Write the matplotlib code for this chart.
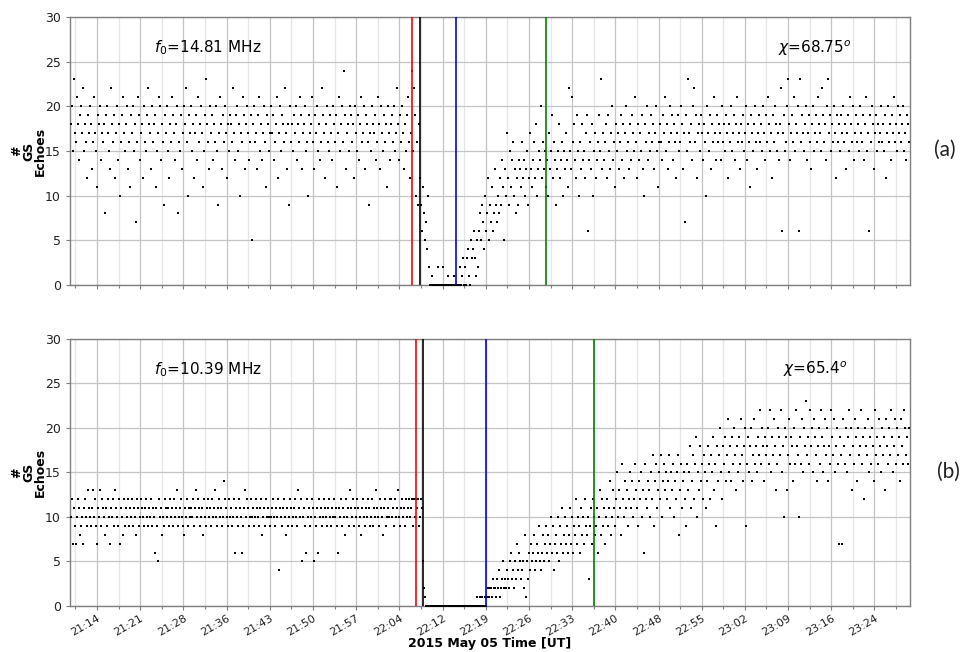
import matplotlib
matplotlib.use("Agg")
import matplotlib.pyplot as plt
import numpy as np
from matplotlib.ticker import FixedLocator

# ---------------------------------------------------------------------------
# Ground-scatter echo counts, 10 s cadence, 2015-05-05
# ---------------------------------------------------------------------------
CADENCE_S = 10

# Panel (a): f0 = 14.81 MHz
a_pre_start = "21:09:40"
a_pre = [
    18, 20, 15, 23, 17, 16, 21, 18, 14, 19, 20, 17, 22, 15, 18, 16, 12, 19, 17, 20,
    18, 13, 16, 21, 17, 15, 11, 19, 18, 20, 14, 17, 16, 18, 8, 19, 20, 17, 15, 13,
    22, 18, 16, 19, 12, 17, 20, 14, 18, 10, 16, 19, 21, 17, 15, 18, 20, 13, 16, 11,
    19, 17, 20, 15, 18, 7, 16, 21, 19, 14, 17, 18, 12, 20, 16, 15, 19, 22, 18, 17,
    13, 20, 16, 18, 19, 11, 15, 17, 21, 20, 14, 18, 16, 9, 19, 17, 20, 15, 12, 18,
    16, 21, 19, 17, 14, 18, 20, 8, 16, 15, 19, 13, 17, 20, 18, 22, 16, 10, 19, 17,
    20, 15, 18, 12, 17, 19, 14, 21, 16, 18, 20, 17, 11, 15, 19, 23, 18, 16, 13, 20,
    17, 19, 14, 18, 16, 20, 15, 9, 17, 21, 18, 13, 19, 16, 20, 17, 12, 18, 15, 19,
    18, 16, 22, 17, 14, 19, 20, 15, 18, 10, 17, 16, 21, 19, 13, 18, 20, 17, 14, 16,
    19, 5, 18, 20, 16, 17, 13, 19, 21, 15, 18, 14, 17, 20, 16, 11, 19, 18, 15, 17,
    20, 17, 19, 14, 16, 18, 21, 12, 17, 20, 15, 19, 18, 16, 22, 17, 13, 18, 9, 20,
    16, 18, 15, 19, 17, 20, 14, 18, 16, 21, 19, 13, 17, 18, 20, 15, 16, 10, 19, 17,
    18, 21, 16, 13, 19, 17, 20, 15, 18, 14, 16, 22, 19, 17, 12, 18, 20, 16, 15, 19,
    17, 14, 20, 18, 16, 19, 11, 17, 21, 15, 18, 20, 16, 24, 19, 13, 17, 18, 15, 20,
    19, 16, 18, 12, 20, 17, 15, 19, 14, 18, 21, 16, 17, 20, 13, 19, 18, 16, 9, 17,
    15, 20, 18, 17, 19, 14, 16, 21, 18, 13, 20, 17, 15, 19, 16, 18, 11, 20, 17, 14,
    18, 19, 16, 20, 15, 17, 22, 18, 14, 19, 16, 20, 17, 13, 18, 15, 19, 21, 16, 12,
    17, 24, 15, 22, 19, 10, 16, 9, 18,
]
a_drop_start = "22:07:50"
a_drop = [
    12, 9, 6, 11, 8, 5, 7, 4, 10, 2,
    0, 0, 1, 0, 0, 0, 0, 0, 2, 0,
    0, 0, 0, 2, 0, 0, 0, 0, 1, 0,
    0, 0, 0, 0, 1, 0, 0, 0, 0, 0,
    2, 0, 1, 3, 0, 2, 0, 3, 4, 1,
    0, 5, 3, 4, 6, 3, 1, 5, 2, 6,
]
a_post_start = "22:17:50"
a_post = [
    8, 5, 9, 7, 4, 10, 6, 8, 12, 5, 9, 7, 11, 6, 8, 13, 9, 7, 10, 8,
    12, 9, 14, 11, 5, 13, 10, 17, 12, 9, 15, 11, 14, 16, 10, 13, 8, 12, 9, 14,
    13, 11, 16, 12, 14, 10, 13, 15, 9, 12, 17, 13, 11, 14, 16, 12, 18, 10, 13, 15,
    14, 20, 12, 16, 13, 15, 11, 14, 10, 17, 13, 15, 19, 12, 16, 14, 9, 13, 15, 18,
    12, 14, 16, 10, 15, 13, 17, 14, 11, 22, 15, 13, 21, 16, 18, 14, 12, 19, 15, 10,
    16, 13, 18, 14, 15, 12, 17, 19, 6, 14, 16, 13, 18, 10, 15, 17, 12, 14, 16, 19,
    15, 23, 13, 17, 14, 16, 18, 12, 19, 15, 13, 17, 20, 14, 16, 11, 18, 15, 17, 13,
    16, 19, 14, 18, 12, 17, 20, 15, 16, 13, 18, 14, 19, 17, 15, 21, 16, 12, 18, 14,
    17, 15, 19, 13, 10, 18, 16, 20, 14, 17, 15, 19, 16, 18, 13, 17, 20, 15, 11, 16,
    18, 16, 14, 19, 17, 21, 15, 18, 13, 16, 20, 17, 19, 14, 18, 16, 12, 17, 19, 15,
    16, 20, 18, 13, 17, 7, 19, 15, 23, 17, 16, 18, 14, 20, 22, 16, 19, 12, 17, 18,
    15, 19, 17, 14, 18, 16, 10, 20, 17, 15, 19, 13, 18, 16, 21, 17, 14, 19, 16, 18,
    17, 14, 20, 16, 18, 15, 19, 17, 12, 18, 16, 20, 15, 17, 19, 14, 18, 21, 16, 17,
    13, 18, 16, 19, 15, 17, 20, 14, 18, 16, 11, 19, 17, 15, 18, 20, 16, 13, 17, 19,
    16, 18, 15, 20, 17, 14, 19, 16, 21, 18, 15, 17, 12, 19, 16, 20, 18, 15, 17, 14,
    18, 22, 6, 17, 19, 15, 16, 20, 23, 18, 14, 17, 19, 16, 21, 15, 18, 17, 20, 6,
    23, 16, 19, 17, 15, 18, 20, 14, 17, 19, 16, 13, 18, 20, 15, 17, 19, 16, 21, 18,
    17, 15, 22, 19, 16, 18, 14, 20, 23, 17, 19, 15, 18, 16, 20, 17, 12, 19, 16, 18,
    15, 19, 17, 20, 16, 18, 13, 17, 19, 15, 21, 18, 16, 20, 14, 17, 19, 16, 18, 15,
    20, 17, 16, 19, 14, 18, 21, 15, 17, 6, 19, 16, 20, 18, 13, 17, 19, 15, 18, 16,
    17, 20, 16, 18, 15, 19, 12, 17, 20, 16, 18, 14, 19, 17, 21, 16, 18, 15, 20, 17,
    19, 16, 18, 20, 15, 17, 14, 19, 18, 16,
]

# Panel (b): f0 = 10.39 MHz
b_pre_start = "21:09:40"
b_pre = [
    10, 12, 7, 11, 9, 7, 10, 12, 11, 8, 9, 10, 7, 11, 12, 10, 9, 13, 11, 10,
    9, 11, 13, 10, 12, 9, 7, 11, 10, 13, 9, 12, 11, 10, 8, 11, 9, 12, 10, 7,
    11, 10, 12, 9, 13, 11, 10, 9, 12, 7, 11, 10, 8, 12, 9, 11, 10, 12, 9, 11,
    10, 12, 9, 11, 10, 8, 12, 11, 9, 10, 12, 11, 10, 9, 11, 12, 10, 9, 11, 10,
    12, 9, 11, 10, 6, 11, 9, 5, 12, 10, 11, 8, 10, 9, 12, 11, 10, 11, 9, 12,
    10, 11, 9, 12, 10, 11, 13, 9, 10, 11, 12, 10, 9, 8, 11, 10, 12, 9, 11, 10,
    11, 10, 12, 9, 11, 13, 10, 12, 11, 9, 10, 11, 8, 12, 10, 9, 11, 12, 10, 11,
    9, 12, 10, 11, 13, 10, 9, 11, 12, 10, 11, 9, 10, 14, 12, 11, 10, 9, 12, 10,
    11, 9, 10, 12, 6, 11, 10, 9, 12, 11, 10, 6, 9, 11, 13, 10, 12, 11, 9, 10,
    12, 10, 11, 9, 10, 12, 11, 10, 9, 11, 12, 8, 10, 11, 9, 12, 10, 11, 10, 9,
    10, 11, 12, 10, 9, 11, 10, 12, 4, 11, 10, 9, 11, 12, 10, 8, 11, 9, 10, 12,
    11, 9, 10, 11, 12, 10, 9, 13, 11, 10, 12, 5, 10, 11, 9, 6, 12, 10, 11, 9,
    10, 12, 11, 5, 10, 9, 11, 6, 12, 10, 11, 9, 10, 12, 11, 10, 9, 11, 12, 10,
    9, 11, 10, 12, 10, 11, 9, 6, 11, 10, 12, 9, 11, 10, 8, 12, 10, 11, 9, 13,
    11, 10, 12, 9, 11, 10, 12, 11, 9, 10, 8, 11, 12, 10, 9, 11, 10, 12, 11, 9,
    10, 12, 9, 11, 10, 13, 11, 10, 9, 12, 11, 10, 8, 11, 12, 9, 10, 11, 10, 12,
    12, 10, 11, 9, 12, 10, 11, 13, 10, 9, 11, 12, 10, 11, 9, 12, 10, 11, 12, 10,
    11, 12, 9, 12, 10, 12, 11, 12, 9, 10, 12, 11,
]
b_drop_start = "22:08:20"
b_drop = [
    5, 2, 1, 0, 0, 0, 0, 0, 0, 0,
    0, 0, 0, 0, 0, 0, 0, 0, 0, 0,
    0, 0, 0, 0, 0, 0, 0, 0, 0, 0,
    0, 0, 0, 0, 0, 0, 0, 0, 0, 0,
    0, 0, 0, 0, 0, 0, 0, 0, 0, 0,
    0, 0, 0, 0,
    1, 0, 0, 1, 0, 1, 0, 0, 1, 0,
]
b_post_start = "22:19:00"
b_post = [
    1, 2, 1, 2, 2, 1, 3, 2, 2, 1, 3, 2, 4, 1, 2, 3, 5, 2, 3, 2,
    4, 3, 2, 5, 6, 3, 4, 2, 5, 3, 7, 4, 6, 5, 3, 4, 5, 2, 8, 1,
    5, 3, 6, 4, 7, 5, 6, 8, 4, 5, 7, 6, 9, 5, 4, 6, 8, 5, 7, 9,
    6, 8, 5, 7, 10, 6, 9, 4, 7, 8, 6, 10, 5, 9, 7, 11, 6, 8, 10, 7,
    9, 6, 8, 11, 7, 10, 6, 9, 8, 12, 7, 10, 9, 6, 11, 8, 10, 7, 12, 9,
    8, 10, 3, 9, 11, 7, 12, 10, 8, 9, 11, 6, 10, 13, 8, 12, 9, 11, 7, 10,
    12, 9, 11, 14, 8, 10, 13, 11, 9, 12, 15, 10, 13, 11, 8, 16, 12, 10, 14, 11,
    13, 9, 12, 15, 11, 14, 10, 12, 16, 13, 11, 9, 14, 12, 15, 10, 13, 6, 16, 12,
    11, 14, 13, 10, 15, 12, 17, 9, 14, 16, 11, 13, 15, 12, 17, 10, 14, 16, 13, 15,
    12, 14, 17, 11, 15, 13, 16, 10, 14, 12, 15, 17, 8, 13, 16, 11, 14, 15, 12, 9,
    16, 13, 15, 18, 11, 14, 17, 12, 16, 19, 10, 15, 13, 18, 14, 16, 12, 17, 15, 11,
    14, 18, 16, 12, 17, 15, 19, 13, 16, 9, 18, 14, 17, 20, 15, 12, 18, 16, 19, 14,
    17, 21, 15, 18, 14, 19, 16, 20, 17, 13, 18, 15, 19, 16, 21, 17, 14, 18, 20, 9,
    16, 19, 15, 18, 20, 14, 17, 21, 16, 18, 15, 19, 17, 22, 16, 20, 18, 14, 19, 17,
    18, 20, 16, 22, 15, 19, 17, 21, 18, 13, 16, 20, 19, 17, 22, 15, 18, 10, 20, 19,
    13, 17, 21, 16, 19, 18, 14, 20, 16, 22, 18, 17, 10, 19, 16, 21, 15, 20, 18, 23,
    17, 19, 16, 22, 18, 20, 15, 21, 19, 17, 14, 18, 20, 16, 22, 19, 15, 18, 21, 17,
    20, 14, 18, 16, 22, 19, 17, 21, 15, 18, 20, 16, 7, 19, 17, 7, 21, 18, 16, 20,
    15, 19, 22, 17, 20, 13, 18, 16, 21, 19, 14, 20, 17, 18, 22, 16, 19, 12, 20, 18,
    17, 21, 15, 19, 16, 20, 18, 14, 22, 17, 19, 16, 21, 18, 15, 20, 17, 19, 13, 21,
    18, 16, 20, 17, 22, 19, 15, 18, 21, 16, 20, 17, 19, 14, 21, 18, 16, 22, 20, 17,
    19, 16, 20,
]

# Event markers (UT) for each panel: red, black, blue, green
a_events = ["22:06:30", "22:07:50", "22:13:50", "22:28:50"]
b_events = ["22:07:10", "22:08:20", "22:18:50", "22:36:50"]
event_colors = ["red", "black", "blue", "green"]

a_freq = "14.81"
b_freq = "10.39"
a_chi = "68.75"
b_chi = "65.4"
panel_tags = ["(a)", "(b)"]

# Time axis
x_start, x_end = "21:09:30", "23:29:30"
tick_times = ["21:14:00", "21:21:12", "21:28:24", "21:35:36", "21:42:48",
              "21:50:00", "21:57:12", "22:04:24", "22:11:36", "22:18:48",
              "22:26:00", "22:33:12", "22:40:24", "22:47:36", "22:54:48",
              "23:02:00", "23:09:12", "23:16:24", "23:23:36"]
tick_labels = ["21:14", "21:21", "21:28", "21:36", "21:43", "21:50", "21:57",
               "22:04", "22:12", "22:19", "22:26", "22:33", "22:40", "22:48",
               "22:55", "23:02", "23:09", "23:16", "23:24"]


def to_min(hhmmss):
    h, m, s = (int(v) for v in hhmmss.split(":"))
    return (h - 21) * 60 + m + s / 60.0


def series(start, values):
    v = np.asarray(values, dtype=float)
    t = to_min(start) + np.arange(len(v)) * CADENCE_S / 60.0
    return t, v


plt.rcParams["font.family"] = ["DejaVu Sans"]
fig = plt.figure(figsize=(9.62, 6.52), dpi=100)
ax_a = fig.add_axes([0.0728, 0.563, 0.873, 0.411])
ax_b = fig.add_axes([0.0728, 0.0706, 0.873, 0.4095])

major = [to_min(s) for s in tick_times]
step = major[1] - major[0]
minor = [major[0] - step / 2] + [m + step / 2 for m in major]

panels = [
    (ax_a, [(a_pre_start, a_pre), (a_drop_start, a_drop), (a_post_start, a_post)],
     a_events, a_freq, a_chi),
    (ax_b, [(b_pre_start, b_pre), (b_drop_start, b_drop), (b_post_start, b_post)],
     b_events, b_freq, b_chi),
]

spine_col = "#7f7f7f"
for ax, segments, events, freq, chi in panels:
    for start, vals in segments:
        t, v = series(start, vals)
        ax.plot(t, v, ls="none", marker="s", ms=1.5, mew=0, color="black",
                zorder=3)
    for ev, col in zip(events, event_colors):
        ax.axvline(to_min(ev), color=col, lw=1.2, zorder=4)

    ax.set_xlim(to_min(x_start), to_min(x_end))
    ax.set_ylim(0, 30)
    ax.set_yticks(np.arange(0, 31, 5))
    ax.xaxis.set_major_locator(FixedLocator(major))
    ax.xaxis.set_minor_locator(FixedLocator(minor))
    ax.grid(which="major", color="#c4c4c4", lw=0.9, zorder=0)
    ax.grid(which="minor", axis="x", color="#e6e6e6", lw=0.9, zorder=0)
    ax.set_axisbelow(True)
    for sp in ax.spines.values():
        sp.set_color(spine_col)
        sp.set_linewidth(1.0)
    ax.tick_params(which="both", colors=spine_col, labelcolor="#222222",
                   length=3, width=0.8)
    ax.tick_params(axis="y", labelsize=9)
    ax.tick_params(axis="x", labelsize=8, pad=2)
    ax.tick_params(which="minor", length=2)
    ax.set_ylabel("#\nGS\nEchoes", fontsize=9, fontweight="bold",
                  linespacing=0.85, labelpad=-1)
    ax.text(0.164, 0.885, r"$f_0$=" + freq + " MHz", transform=ax.transAxes,
            ha="center", va="center", fontsize=11)
    ax.text(0.887, 0.885, r"$\chi$=" + chi + r"$^o$", transform=ax.transAxes,
            ha="center", va="center", fontsize=11)

ax_a.set_xticklabels([])
ax_b.set_xticklabels(tick_labels, rotation=30, ha="right",
                     rotation_mode="anchor")
fig.text(0.5093, 0.003, "2015 May 05 Time [UT]", ha="center", va="bottom",
         fontsize=9, fontweight="bold")

fig.text(0.982, 0.770, panel_tags[0], ha="center", va="center", fontsize=15,
         family=["Lato", "DejaVu Sans"], color="#222222")
fig.text(0.986, 0.276, panel_tags[1], ha="center", va="center", fontsize=15,
         family=["Lato", "DejaVu Sans"], color="#222222")

fig.savefig("out.png", dpi=100)
